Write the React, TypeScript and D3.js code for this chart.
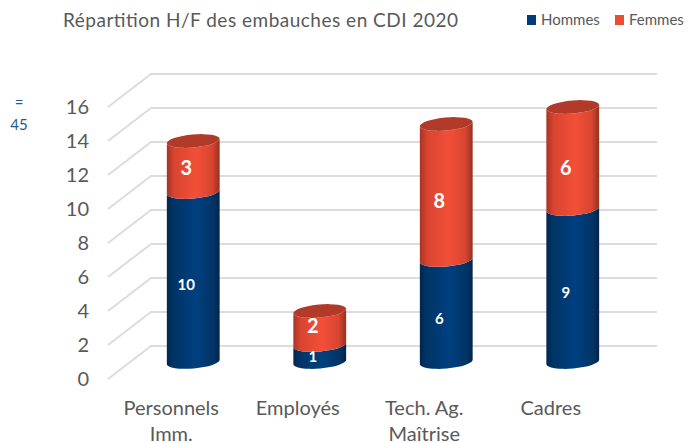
import React from 'react';
import * as d3 from 'd3';

const categories = ['Personnels Imm.', 'Employés', 'Tech. Ag. Maîtrise', 'Cadres'];
const categoryLines = [['Personnels', 'Imm.'], ['Employés'], ['Tech. Ag.', 'Maîtrise'], ['Cadres']];
const hommes = [10, 1, 6, 9];
const femmes = [3, 2, 8, 6];
const seriesNames = ['Hommes', 'Femmes'];
const yTicks = [0, 2, 4, 6, 8, 10, 12, 14, 16];

const width = 689;
const height = 443;
const FONT = 'Lato, "Open Sans", sans-serif';
const TEXT = '#595959';

// fake 3d: the back wall is the front plane pushed up and right
const depthX = 43;
const depthY = -33;
const rx = 26.5;
const ry = 6.5;
const tilt = -5;
const slopeX = rx * Math.cos((tilt * Math.PI) / 180);
const slopeY = rx * Math.sin((tilt * Math.PI) / 180);

const y = d3.scaleLinear().domain([0, 16]).range([379, 107]);
const x = d3.scaleBand().domain(categories).range([108, 614]);

const rows = categories.map((c, i) => ({ category: c, Hommes: hommes[i], Femmes: femmes[i] }));
const stacked = d3.stack<any>().keys(seriesNames)(rows);

const seriesColor = ['#003c78', '#ee4b34'];
const labelSize = [15, 20];
// labels sit a bit under the segment middle in the original
const labelNudge = [[8, 3, 8, 7], [1, -2, 9, 10]];

function segmentPath(cx: number, v0: number, v1: number) {
  const y0 = y(v0) - 17;
  const y1 = y(v1) - 17;
  const p = d3.path();
  p.moveTo(cx - slopeX, y0 - slopeY);
  const arc = (tx: number, ty: number, sweep: number) =>
    `A${rx},${ry} ${tilt} 0 ${sweep} ${tx},${ty}`;
  return (
    `M${cx - slopeX},${y0 - slopeY}` +
    arc(cx + slopeX, y0 + slopeY, 0) +
    `L${cx + slopeX},${y1 + slopeY}` +
    arc(cx - slopeX, y1 - slopeY, 1) +
    'Z'
  );
}

export default function App() {
  const bw = x.bandwidth();
  return (
    <svg
      width={width}
      height={height}
      viewBox={`0 0 ${width} ${height}`}
      style={{ position: 'absolute', left: 0, top: 0, background: '#fff', fontFamily: FONT }}
    >
      <defs>
        <linearGradient id="grad-Hommes" x1="0" x2="1" y1="0" y2="0">
          <stop offset="0" stopColor="#00264f" />
          <stop offset="0.12" stopColor="#003465" />
          <stop offset="0.55" stopColor="#004080" />
          <stop offset="0.88" stopColor="#003465" />
          <stop offset="1" stopColor="#00244a" />
        </linearGradient>
        <linearGradient id="grad-Femmes" x1="0" x2="1" y1="0" y2="0">
          <stop offset="0" stopColor="#a93424" />
          <stop offset="0.14" stopColor="#d84530" />
          <stop offset="0.55" stopColor="#f34f38" />
          <stop offset="0.86" stopColor="#d84530" />
          <stop offset="1" stopColor="#96301f" />
        </linearGradient>
      </defs>

      <text x={63} y={27} fontSize={19} fill={TEXT} textLength={395}>
        Répartition H/F des embauches en CDI 2020
      </text>

      {seriesNames.map((s, i) => (
        <g key={s} transform={`translate(${i === 0 ? 527 : 615},15)`}>
          <rect width={9} height={10} fill={seriesColor[i]} />
          <text x={14} y={10} fontSize={15} fill={TEXT}>{s}</text>
        </g>
      ))}

      <text x={19} y={108} textAnchor="middle" fontSize={15} fill="#1f5a94">=</text>
      <text x={19} y={130} textAnchor="middle" fontSize={15} fill="#1f5a94">45</text>

      <g fill="none" stroke="#dcdcdc" strokeWidth={2}>
        {yTicks.map(t => (
          <polyline
            key={t}
            points={`108,${y(t)} ${108 + depthX},${y(t) + depthY} 657,${y(t) + depthY}`}
          />
        ))}
      </g>

      {yTicks.map(t => (
        <text key={t} x={89} y={y(t)} dy="0.35em" textAnchor="end" fontSize={20} fill={TEXT}>
          {t}
        </text>
      ))}

      {categories.map((c, i) => {
        const cx = (x(c) as number) + bw / 2 + 22;
        const total = hommes[i] + femmes[i];
        return (
          <g key={c}>
            {stacked.map((layer, s) => (
              <path
                key={layer.key}
                d={segmentPath(cx, layer[i][0], layer[i][1])}
                fill={`url(#grad-${layer.key})`}
              />
            ))}
            <ellipse
              cx={cx}
              cy={y(total) - 17}
              rx={rx}
              ry={ry}
              transform={`rotate(${tilt} ${cx} ${y(total) - 17})`}
              fill="#b23a29"
            />
            {stacked.map((layer, s) => (
              <text
                key={layer.key}
                x={cx - 7}
                y={(y(layer[i][0]) + y(layer[i][1])) / 2 - 17 + labelNudge[s][i]}
                dy="0.35em"
                textAnchor="middle"
                fontSize={labelSize[s]}
                fontWeight={700}
                fill="#fff"
              >
                {layer[i][1] - layer[i][0]}
              </text>
            ))}
          </g>
        );
      })}

      {categories.map((c, i) => (
        <text key={c} textAnchor="middle" fontSize={20} fill={TEXT}>
          {categoryLines[i].map((line, j) => (
            <tspan key={line} x={(x(c) as number) + bw / 2} y={415 + j * 26}>{line}</tspan>
          ))}
        </text>
      ))}
    </svg>
  );
}
